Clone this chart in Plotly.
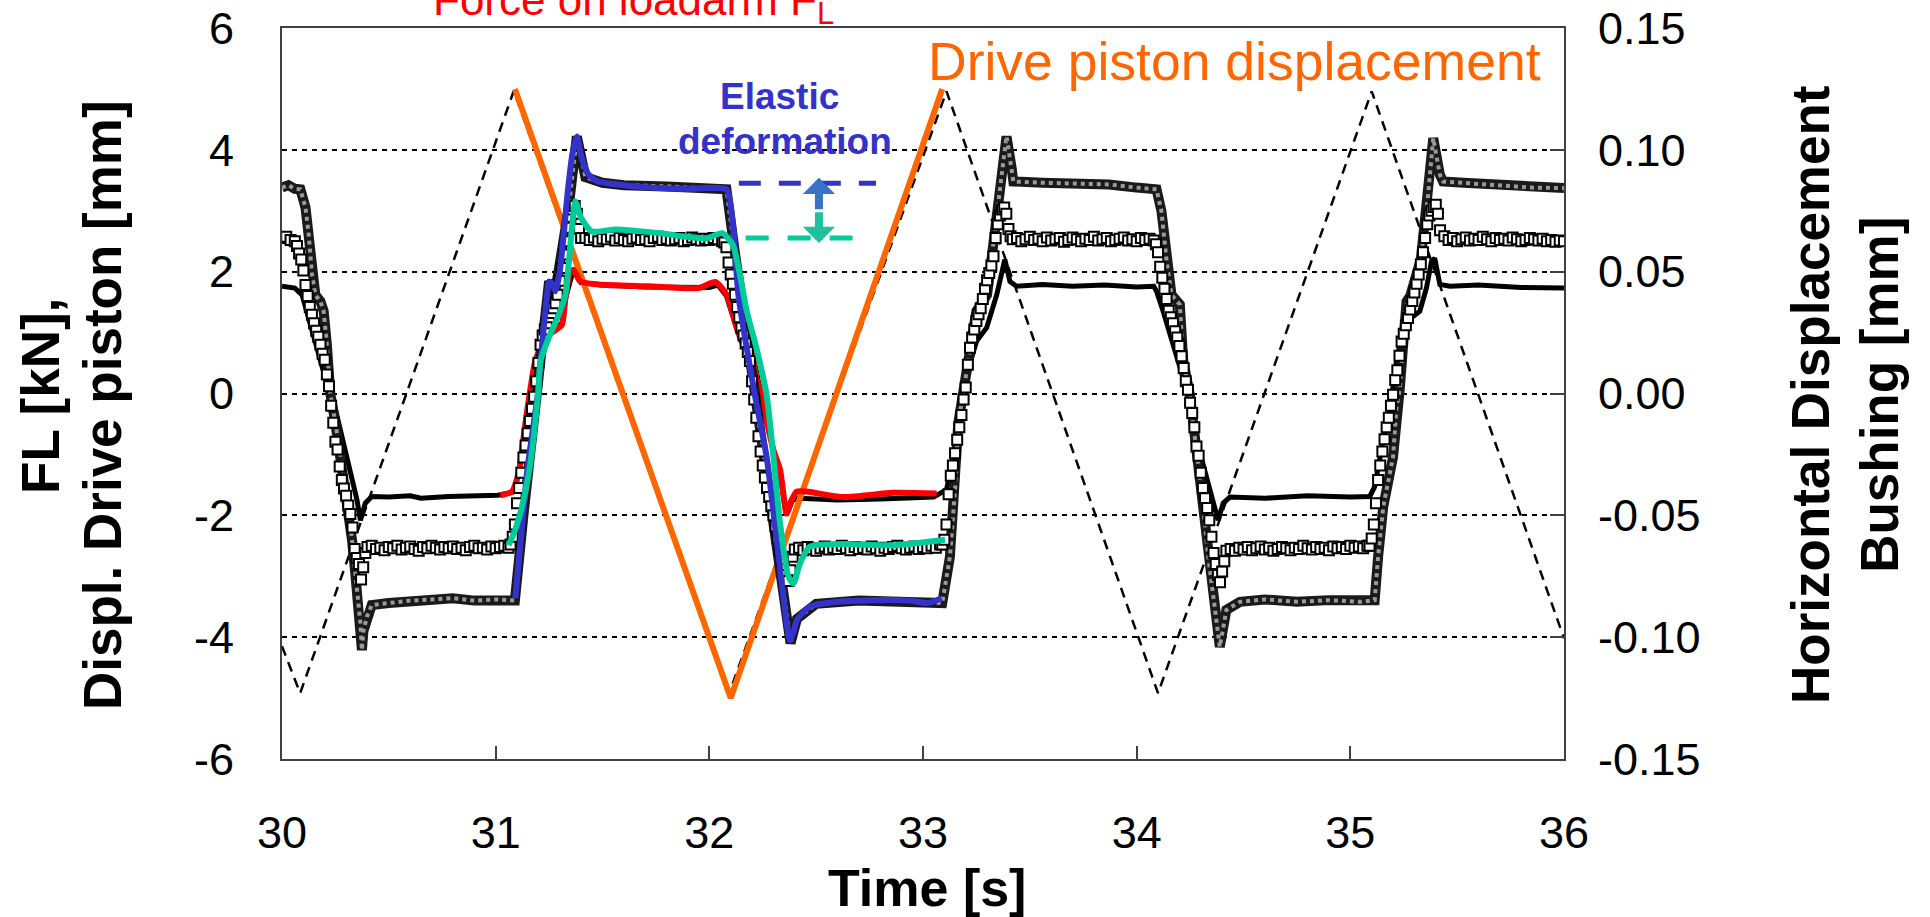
import plotly.graph_objects as go

# ---------------- data ----------------
X_TICKS = [30, 31, 32, 33, 34, 35, 36]
X_TICK_TEXT = ["30", "31", "32", "33", "34", "35", "36"]
Y_TICKS = [-6, -4, -2, 0, 2, 4, 6]
Y_TICK_TEXT = ["-6", "-4", "-2", "0", "2", "4", "6"]
Y2_TICKS = [-0.15, -0.10, -0.05, 0.0, 0.05, 0.10, 0.15]
Y2_TICK_TEXT = ["-0.15", "-0.10", "-0.05", "0.00", "0.05", "0.10", "0.15"]

# drive piston displacement, command (orange) and measured (dashed) [mm]
DRIVE_CMD_T = [31.09, 32.10, 33.09]
DRIVE_CMD_MM = [5.0, -5.0, 5.0]
DRIVE_MEAS_T = [30.00, 30.085, 31.085, 32.09, 33.11, 34.10, 35.10, 36.00]
DRIVE_MEAS_MM = [-4.15, -4.92, 4.97, -4.95, 4.96, -4.92, 4.96, -4.02]

# force on loadarm, full record (black) [kN]
FORCE_T = [30.00, 30.06, 30.094, 30.125, 30.156, 30.203, 30.234, 30.312, 30.351, 30.367,
           30.39, 30.42, 30.50, 30.60, 30.65, 30.78, 30.90, 31.01, 31.08, 31.11,
           31.14, 31.165, 31.19, 31.23, 31.31, 31.33, 31.365, 31.40, 31.50, 31.70,
           32.00, 32.04, 32.08, 32.13, 32.17, 32.20, 32.23, 32.25, 32.30, 32.33,
           32.36, 32.39, 32.42, 32.60, 32.80, 33.05, 33.08, 33.11, 33.142, 33.173,
           33.196, 33.22, 33.251, 33.298, 33.345, 33.376, 33.383, 33.407, 33.438, 33.56,
           33.70, 33.85, 34.00, 34.08, 34.093, 34.124, 34.155, 34.187, 34.218, 34.241,
           34.28, 34.327, 34.358, 34.381, 34.405, 34.436, 34.60, 34.80, 35.00, 35.091,
           35.114, 35.13, 35.154, 35.185, 35.20, 35.216, 35.247, 35.263, 35.325, 35.356,
           35.38, 35.395, 35.419, 35.466, 35.60, 35.80, 36.00]
FORCE_KN = [1.76, 1.73, 1.62, 1.24, 0.80, 0.25, -0.02, -1.15, -1.75, -2.08,
            -1.80, -1.69, -1.70, -1.68, -1.72, -1.69, -1.68, -1.67, -1.62, -1.30,
            -0.50, 0.05, 0.55, 0.90, 1.15, 1.60, 2.05, 1.82, 1.78, 1.75,
            1.74, 1.78, 1.60, 1.05, 0.85, 0.70, 0.20, -0.10, -0.95, -1.30,
            -2.00, -1.75, -1.72, -1.75, -1.73, -1.70, -1.64, -1.58, -1.04, -0.49,
            0.06, 0.50, 0.86, 1.08, 1.62, 2.17, 2.20, 1.84, 1.76, 1.79,
            1.76, 1.78, 1.75, 1.76, 1.68, 1.35, 0.97, 0.64, 0.20, -0.02,
            -0.76, -1.37, -1.75, -2.08, -1.80, -1.70, -1.72, -1.68, -1.70, -1.69,
            -1.53, -1.20, -0.76, -0.27, 0.06, 0.53, 1.08, 1.18, 1.35, 1.73,
            2.17, 2.22, 1.79, 1.76, 1.78, 1.74, 1.73]

# force on loadarm, highlighted cycle (red) [kN]
FORCE_CYC_T = [31.022, 31.076, 31.107, 31.139, 31.162, 31.185, 31.224, 31.263, 31.31, 31.326,
               31.349, 31.365, 31.396, 31.482, 31.716, 31.95, 32.028, 32.081, 32.128, 32.159,
               32.19, 32.221, 32.245, 32.30, 32.331, 32.362, 32.385, 32.409, 32.455, 32.627,
               32.861, 33.064]
FORCE_CYC_KN = [-1.67, -1.61, -1.31, -0.49, 0.06, 0.53, 0.86, 1.00, 1.13, 1.57,
                1.98, 2.03, 1.84, 1.79, 1.76, 1.73, 1.83, 1.62, 1.08, 0.80,
                0.75, 0.25, -0.07, -0.93, -1.25, -1.97, -1.75, -1.61, -1.61, -1.70,
                -1.63, -1.64]

# horizontal bushing displacement, outer (hatched gray) [mm]
BUSH_A_T = [30.00, 30.03, 30.06, 30.086, 30.11, 30.125, 30.14, 30.156, 30.18, 30.195,
            30.21, 30.226, 30.25, 30.281, 30.312, 30.328, 30.343, 30.367, 30.374, 30.381,
            30.398, 30.42, 30.50, 30.60, 30.70, 30.80, 30.90, 31.00, 31.09, 31.13,
            31.20, 31.25, 31.28, 31.34, 31.38, 31.42, 31.50, 31.60, 31.80, 32.00,
            32.08, 32.12, 32.21, 32.30, 32.36, 32.38, 32.41, 32.50, 32.70, 32.90,
            33.09, 33.126, 33.15, 33.165, 33.19, 33.25, 33.30, 33.345, 33.376, 33.391,
            33.415, 33.423, 33.56, 33.70, 33.87, 34.00, 34.093, 34.116, 34.14, 34.163,
            34.202, 34.218, 34.249, 34.264, 34.303, 34.335, 34.358, 34.389, 34.42, 34.483,
            34.60, 34.75, 34.90, 35.05, 35.114, 35.13, 35.154, 35.20, 35.216, 35.231,
            35.263, 35.28, 35.33, 35.364, 35.388, 35.419, 35.434, 35.53, 35.70, 35.85,
            36.00]
BUSH_A_MM = [0.0845, 0.0855, 0.0840, 0.0838, 0.0763, 0.0653, 0.0488, 0.0405, 0.0378, 0.0338,
             0.0200, 0.0000, -0.0123, -0.0300, -0.0465, -0.0603, -0.0738, -0.0943, -0.1053, -0.0975,
             -0.0915, -0.0868, -0.0860, -0.0850, -0.0845, -0.0840, -0.0850, -0.0845, -0.0850, -0.0500,
             0.0015, 0.0460, 0.0425, 0.0750, 0.1055, 0.0888, 0.0865, 0.0855, 0.0850, 0.0843,
             0.0838, 0.0575, 0.0000, -0.0500, -0.0900, -0.1025, -0.0925, -0.0863, -0.0850, -0.0850,
             -0.0860, -0.0670, -0.0395, -0.0123, 0.0015, 0.0338, 0.0405, 0.0750, 0.0953, 0.1055,
             0.0925, 0.0870, 0.0865, 0.0863, 0.0858, 0.0845, 0.0838, 0.0748, 0.0543, 0.0405,
             0.0365, 0.0133, -0.0005, -0.0123, -0.0395, -0.0670, -0.0833, -0.1040, -0.0888, -0.0855,
             -0.0845, -0.0855, -0.0848, -0.0855, -0.0848, -0.0670, -0.0465, -0.0260, -0.0055, 0.0015,
             0.0378, 0.0400, 0.0550, 0.0815, 0.1048, 0.0898, 0.0870, 0.0865, 0.0855, 0.0845,
             0.0843]

# outer bushing displacement, highlighted cycle (blue) [mm]
BUSH_A_CYC_T = [31.092, 31.12, 31.15, 31.20, 31.21, 31.24, 31.25, 31.265, 31.28, 31.30,
                31.34, 31.36, 31.38, 31.40, 31.435, 31.48, 31.60, 31.72, 31.90, 32.00,
                32.081, 32.112, 32.136, 32.213, 32.268, 32.315, 32.362, 32.377, 32.395, 32.41,
                32.47, 32.60, 32.78, 32.94, 33.02, 33.087]
BUSH_A_CYC_MM = [-0.0840, -0.0575, -0.0300, 0.0015, 0.0133, 0.0400, 0.0460, 0.0450, 0.0420, 0.0500,
                 0.0850, 0.0988, 0.1055, 0.0975, 0.0898, 0.0870, 0.0855, 0.0845, 0.0840, 0.0843,
                 0.0838, 0.0680, 0.0405, -0.0005, -0.0260, -0.0600, -0.0943, -0.1013, -0.0975, -0.0930,
                 -0.0875, -0.0855, -0.0848, -0.0850, -0.0860, -0.0840]

# inner bushing displacement, highlighted cycle (teal) [mm]
BUSH_B_CYC_T = [31.06, 31.09, 31.123, 31.16, 31.185, 31.20, 31.21, 31.248, 31.295, 31.326,
                31.357, 31.373, 31.40, 31.45, 31.56, 31.80, 31.87, 31.99, 32.06, 32.11,
                32.143, 32.175, 32.22, 32.268, 32.30, 32.331, 32.37, 32.393, 32.424, 32.471,
                32.627, 32.861, 33.103]
BUSH_B_CYC_MM = [-0.0623, -0.0563, -0.0465, -0.0300, -0.0123, 0.0015, 0.0133, 0.0228, 0.0323, 0.0405,
                 0.0680, 0.0788, 0.0720, 0.0665, 0.0673, 0.0655, 0.0645, 0.0638, 0.0658, 0.0610,
                 0.0488, 0.0338, 0.0188, -0.0005, -0.0260, -0.0533, -0.0750, -0.0780, -0.0698, -0.0628,
                 -0.0618, -0.0623, -0.0600]

# inner bushing displacement, full record (square markers) [mm]
# segments: (start time [s], sample step [s], sampled values [mm])
BUSH_B_SEGMENTS = [
    (30.00, 0.02, [0.0638, 0.0643, 0.0630, 0.0625]),
    (30.07, 0.01, [0.0605, 0.0575, 0.0550, 0.0505, 0.0445, 0.0400, 0.0355, 0.0323, 0.0288, 0.0258,
                   0.0233, 0.0200, 0.0163, 0.0138, 0.0078, 0.0030, -0.0050, -0.0120, -0.0198, -0.0230,
                   -0.0300, -0.0355, -0.0390, -0.0420, -0.0460, -0.0495, -0.0550, -0.0638, -0.0675, -0.0700,
                   -0.0763, -0.0713, -0.0655, -0.0630]),
    (30.42, 0.02, [-0.0625, -0.0638, -0.0633, -0.0643, -0.0630, -0.0635, -0.0625, -0.0640, -0.0633, -0.0628,
                   -0.0638, -0.0645, -0.0630, -0.0635, -0.0625, -0.0633, -0.0640, -0.0630, -0.0635, -0.0628,
                   -0.0638, -0.0633, -0.0643, -0.0630, -0.0625, -0.0635, -0.0633, -0.0640, -0.0628, -0.0635,
                   -0.0630, -0.0625, -0.0633]),
    (31.07, 0.01, [-0.0620, -0.0588, -0.0538, -0.0450, -0.0388, -0.0325, -0.0263, -0.0213, -0.0163, -0.0113,
                   -0.0063, -0.0013, 0.0050, 0.0125, 0.0200, 0.0238, 0.0263, 0.0288, 0.0313, 0.0330,
                   0.0350, 0.0370, 0.0405, 0.0463, 0.0515, 0.0570, 0.0625, 0.0680, 0.0725, 0.0755,
                   0.0770, 0.0738, 0.0675, 0.0638]),
    (31.42, 0.02, [0.0638, 0.0630, 0.0640, 0.0625, 0.0635, 0.0633, 0.0643, 0.0628, 0.0638, 0.0630,
                   0.0625, 0.0635, 0.0640, 0.0630, 0.0633, 0.0625, 0.0638, 0.0643, 0.0630, 0.0635,
                   0.0628, 0.0633, 0.0638, 0.0625, 0.0630, 0.0640, 0.0633, 0.0628, 0.0635, 0.0630,
                   0.0638, 0.0633, 0.0625]),
    (32.07, 0.01, [0.0620, 0.0600, 0.0538, 0.0488, 0.0450, 0.0405, 0.0355, 0.0313, 0.0270, 0.0238,
                   0.0205, 0.0170, 0.0133, 0.0050, -0.0025, -0.0100, -0.0175, -0.0238, -0.0295, -0.0345,
                   -0.0388, -0.0425, -0.0463, -0.0500, -0.0545, -0.0595, -0.0645, -0.0688, -0.0720, -0.0745,
                   -0.0770, -0.0725, -0.0670, -0.0640]),
    (32.42, 0.02, [-0.0633, -0.0643, -0.0630, -0.0638, -0.0645, -0.0635, -0.0628, -0.0640, -0.0633, -0.0638,
                   -0.0625, -0.0635, -0.0643, -0.0630, -0.0638, -0.0633, -0.0640, -0.0628, -0.0635, -0.0645,
                   -0.0633, -0.0638, -0.0630, -0.0625, -0.0635, -0.0640, -0.0633, -0.0628, -0.0638, -0.0630,
                   -0.0635, -0.0625, -0.0633, -0.0620]),
    (33.09, 0.01, [-0.0620, -0.0600, -0.0538, -0.0413, -0.0338, -0.0295, -0.0245, -0.0190, -0.0138, -0.0088,
                   -0.0025, 0.0025, 0.0118, 0.0188, 0.0230, 0.0263, 0.0298, 0.0325, 0.0350, 0.0388,
                   0.0430, 0.0465, 0.0495, 0.0525, 0.0563, 0.0638, 0.0695, 0.0730, 0.0755, 0.0763,
                   0.0738, 0.0675, 0.0645, 0.0633]),
    (33.44, 0.02, [0.0638, 0.0625, 0.0633, 0.0643, 0.0630, 0.0635, 0.0625, 0.0640, 0.0628, 0.0633,
                   0.0638, 0.0623, 0.0630, 0.0640, 0.0633, 0.0625, 0.0635, 0.0630, 0.0643, 0.0628,
                   0.0633, 0.0638, 0.0625, 0.0630, 0.0635, 0.0640, 0.0628, 0.0633, 0.0625, 0.0638,
                   0.0630, 0.0635, 0.0628]),
    (34.09, 0.01, [0.0613, 0.0580, 0.0520, 0.0475, 0.0430, 0.0388, 0.0340, 0.0313, 0.0288, 0.0255,
                   0.0230, 0.0195, 0.0153, 0.0105, 0.0050, 0.0015, -0.0038, -0.0080, -0.0138, -0.0218,
                   -0.0255, -0.0325, -0.0388, -0.0430, -0.0470, -0.0520, -0.0588, -0.0655, -0.0700, -0.0745,
                   -0.0775, -0.0730, -0.0688, -0.0645]),
    (34.44, 0.02, [-0.0638, -0.0645, -0.0633, -0.0640, -0.0630, -0.0643, -0.0635, -0.0628, -0.0640, -0.0633,
                   -0.0645, -0.0638, -0.0630, -0.0635, -0.0643, -0.0633, -0.0638, -0.0625, -0.0635, -0.0640,
                   -0.0630, -0.0638, -0.0633, -0.0643, -0.0628, -0.0635, -0.0630, -0.0638, -0.0625, -0.0633,
                   -0.0628, -0.0635, -0.0625]),
    (35.09, 0.01, [-0.0625, -0.0595, -0.0538, -0.0450, -0.0355, -0.0295, -0.0238, -0.0188, -0.0138, -0.0100,
                   -0.0050, -0.0005, 0.0055, 0.0095, 0.0155, 0.0213, 0.0245, 0.0280, 0.0310, 0.0345,
                   0.0380, 0.0415, 0.0450, 0.0488, 0.0530, 0.0580, 0.0638, 0.0695, 0.0730, 0.0750,
                   0.0765, 0.0775, 0.0738, 0.0670]),
    (35.44, 0.02, [0.0645, 0.0630, 0.0638, 0.0625, 0.0633, 0.0640, 0.0628, 0.0635, 0.0630, 0.0643,
                   0.0633, 0.0625, 0.0638, 0.0630, 0.0635, 0.0628, 0.0640, 0.0633, 0.0625, 0.0630,
                   0.0638, 0.0633, 0.0628, 0.0635, 0.0625, 0.0630, 0.0623, 0.0628, 0.0625]),
]

# annotation levels (bushing plateaus, highlighted cycle) [mm]
ELASTIC_UPPER_MM = 0.0863
ELASTIC_LOWER_MM = 0.0638

# ---------------- build ----------------
sq_t, sq_v = [], []
for t0, dt, vals in BUSH_B_SEGMENTS:
    for i, v in enumerate(vals):
        sq_t.append(round(t0 + i * dt, 3))
        sq_v.append(v)

FONT = "Liberation Sans, Arial, sans-serif"
BLUE = "#3333CC"
TEAL = "#00CC99"
RED = "#FF0000"
ORANGE = "#FF6600"

fig = go.Figure()

# hatched (gray) outer bushing trace
fig.add_trace(go.Scatter(x=BUSH_A_T, y=BUSH_A_MM, yaxis="y2", mode="lines",
                         line=dict(color="#1a1a1a", width=10), hoverinfo="skip"))
fig.add_trace(go.Scatter(x=BUSH_A_T, y=BUSH_A_MM, yaxis="y2", mode="lines",
                         line=dict(color="#9a9a9a", width=4, dash="dot"), hoverinfo="skip"))
# square-marker inner bushing trace
fig.add_trace(go.Scatter(x=sq_t, y=sq_v, yaxis="y2", mode="markers",
                         marker=dict(symbol="square", size=10, color="white",
                                     line=dict(color="black", width=2))))
# force (black)
fig.add_trace(go.Scatter(x=FORCE_T, y=FORCE_KN, mode="lines",
                         line=dict(color="black", width=5)))
# measured drive piston displacement (dashed)
fig.add_trace(go.Scatter(x=DRIVE_MEAS_T, y=DRIVE_MEAS_MM, mode="lines",
                         line=dict(color="black", width=2.5, dash="10px,7px")))
# commanded drive piston displacement (orange)
fig.add_trace(go.Scatter(x=DRIVE_CMD_T, y=DRIVE_CMD_MM, mode="lines",
                         line=dict(color=ORANGE, width=6)))
# highlighted cycle
fig.add_trace(go.Scatter(x=BUSH_A_CYC_T, y=BUSH_A_CYC_MM, yaxis="y2", mode="lines",
                         line=dict(color=BLUE, width=6, shape="spline", smoothing=0.6)))
fig.add_trace(go.Scatter(x=BUSH_B_CYC_T, y=BUSH_B_CYC_MM, yaxis="y2", mode="lines",
                         line=dict(color=TEAL, width=6, shape="spline", smoothing=0.6)))
fig.add_trace(go.Scatter(x=FORCE_CYC_T, y=FORCE_CYC_KN, mode="lines",
                         line=dict(color=RED, width=6, shape="spline", smoothing=0.6)))

axis_line = dict(showline=True, linecolor="#404040", linewidth=2, mirror=True,
                 zeroline=False, automargin=False)

fig.update_layout(
    width=1930, height=917,
    margin=dict(l=282, r=366, t=28, b=158, autoexpand=False),
    paper_bgcolor="white", plot_bgcolor="white",
    showlegend=False,
    font=dict(family=FONT, color="black"),
    xaxis=dict(range=[30, 36], tickvals=X_TICKS, ticktext=X_TICK_TEXT,
               ticks="inside", ticklen=13, tickwidth=2, tickcolor="#404040",
               showgrid=False, tickfont=dict(size=45, family=FONT),
               ticklabelstandoff=33, **axis_line),
    yaxis=dict(range=[-6, 6], tickvals=Y_TICKS, ticktext=Y_TICK_TEXT,
               showgrid=True, gridcolor="black", gridwidth=1.5, griddash="5px,5px",
               ticks="", tickfont=dict(size=45, family=FONT),
               ticklabelstandoff=37, **axis_line),
    yaxis2=dict(range=[-0.15, 0.15], tickvals=Y2_TICKS, ticktext=Y2_TICK_TEXT,
                overlaying="y", side="right", showgrid=False, zeroline=False,
                automargin=False,
                ticks="inside", ticklen=14, tickwidth=2, tickcolor="#404040",
                tickfont=dict(size=45, family=FONT), ticklabelstandoff=33),
)

# dashed level markers + double arrow (elastic deformation)
fig.add_shape(type="line", xref="x", yref="y2", x0=32.138, x1=32.78,
              y0=ELASTIC_UPPER_MM, y1=ELASTIC_UPPER_MM,
              line=dict(color=BLUE, width=5, dash="22px,18px"))
fig.add_shape(type="line", xref="x", yref="y2", x0=32.17, x1=32.67,
              y0=ELASTIC_LOWER_MM, y1=ELASTIC_LOWER_MM,
              line=dict(color=TEAL, width=5, dash="23px,19px"))
mid = (ELASTIC_UPPER_MM + ELASTIC_LOWER_MM) / 2
fig.add_annotation(x=32.513, y=ELASTIC_UPPER_MM + 0.0022, xref="x", yref="y2",
                   ax=32.513, ay=mid, axref="x", ayref="y2", text="",
                   showarrow=True, arrowhead=1, arrowsize=0.67, arrowwidth=8,
                   arrowcolor="#3A72C6", standoff=0)
fig.add_annotation(x=32.513, y=ELASTIC_LOWER_MM - 0.002, xref="x", yref="y2",
                   ax=32.513, ay=mid, axref="x", ayref="y2", text="",
                   showarrow=True, arrowhead=1, arrowsize=0.67, arrowwidth=8,
                   arrowcolor="#1FBFA0", standoff=0)

fig.add_annotation(x=32.33, y=4.88, xref="x", yref="y", showarrow=False,
                   text="<b>Elastic</b>", xanchor="center", yanchor="middle",
                   font=dict(size=37, color=BLUE, family=FONT))
fig.add_annotation(x=32.354, y=4.145, xref="x", yref="y", showarrow=False,
                   text="<b>deformation</b>", xanchor="center", yanchor="middle",
                   font=dict(size=37, color=BLUE, family=FONT))
fig.add_annotation(x=34.46, y=5.455, xref="x", yref="y", showarrow=False,
                   text="Drive piston displacement", xanchor="center", yanchor="middle",
                   font=dict(size=53.5, color=ORANGE, family=FONT))
fig.add_annotation(x=31.643, y=0.9928, xref="x", yref="paper", showarrow=False,
                   text="Force on loadarm F<sub>L</sub>", xanchor="center", yanchor="bottom",
                   font=dict(size=44, color=RED, family=FONT))

# axis titles
fig.add_annotation(x=-0.1880, y=0.4966, xref="paper", yref="paper", showarrow=False,
                   text="<b>FL [kN],</b>", textangle=-90,
                   xanchor="center", yanchor="middle",
                   font=dict(size=53, family=FONT))
fig.add_annotation(x=-0.1396, y=0.4843, xref="paper", yref="paper", showarrow=False,
                   text="<b>Displ. Drive piston [mm]</b>", textangle=-90,
                   xanchor="center", yanchor="middle",
                   font=dict(size=53, family=FONT))
fig.add_annotation(x=1.2192, y=0.498, xref="paper", yref="paper", showarrow=False,
                   text="<b>Horizontal Displacement<br>Bushing [mm]</b>", textangle=-90,
                   xanchor="center", yanchor="middle",
                   font=dict(size=53, family=FONT))
fig.add_annotation(x=0.503, y=-0.1765, xref="paper", yref="paper", showarrow=False,
                   text="<b>Time [s]</b>", xanchor="center", yanchor="middle",
                   font=dict(size=52, family=FONT))

fig.write_html("out.html", config={"displayModeBar": False},
               post_script="document.body.style.margin='0px';document.body.style.overflow='hidden';")
